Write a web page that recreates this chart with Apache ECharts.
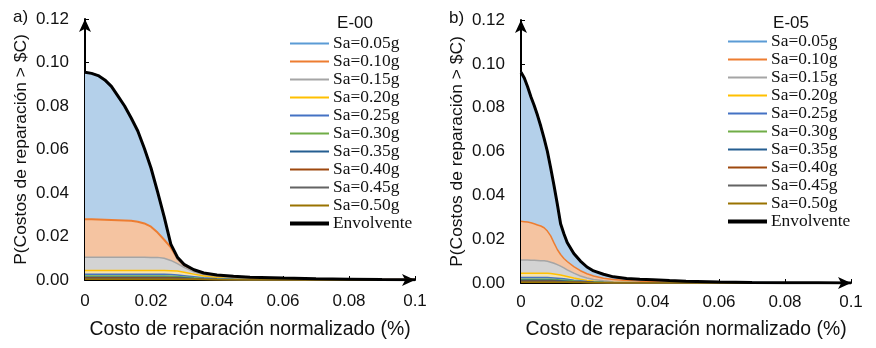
<!DOCTYPE html>
<html><head><meta charset="utf-8">
<script src="https://cdn.jsdelivr.net/npm/echarts@6/dist/echarts.min.js"></script>
<style>html,body{margin:0;padding:0;background:#fff}#c{width:876px;height:348px}</style>
</head><body><div id="c"></div>
<script>
// ---------- Panel a) E-00 ----------
const xA = [0, 0.002, 0.004, 0.006, 0.008, 0.010, 0.012, 0.014, 0.016, 0.018, 0.020, 0.022, 0.024, 0.026, 0.028, 0.030, 0.033, 0.036, 0.040, 0.045, 0.050, 0.060, 0.070, 0.080, 0.090, 0.100];
const envA   = [0.0955,0.0950,0.0940,0.0920,0.0890,0.0845,0.0800,0.0745,0.0685,0.0605,0.0515,0.0405,0.0290,0.0165,0.0105,0.0072,0.0047,0.0032,0.0023,0.0017,0.0013,0.0009,0.0006,0.0004,0.0002,0.0001];
const sa005A = [0.0955,0.0950,0.0940,0.0920,0.0890,0.0845,0.0800,0.0745,0.0685,0.0605,0.0515,0.0405,0.0290,0.0160,0.0095,0.0065,0.0043,0.0030,0.0021,0.0016,0.0012,0.0008,0.0005,0.0003,0.0002,0.0001];
const sa010A = [0.0279,0.0279,0.0278,0.0277,0.0276,0.0275,0.0274,0.0272,0.0268,0.0260,0.0245,0.0218,0.0185,0.0150,0.0100,0.0068,0.0042,0.0028,0.0018,0.0012,0.0009,0.0005,0.0003,0.0002,0.0001,0.0001];
const sa015A = [0.0105,0.0105,0.0105,0.0105,0.0105,0.0105,0.0105,0.0105,0.0105,0.0105,0.0104,0.0104,0.0100,0.0090,0.0075,0.0058,0.0038,0.0024,0.0014,0.0008,0.0005,0.0003,0.0002,0.0001,0.0001,0];
const sa020A = [0.0044,0.0044,0.0044,0.0044,0.0044,0.0044,0.0044,0.0044,0.0044,0.0044,0.0044,0.0044,0.0044,0.0043,0.0041,0.0036,0.0027,0.0018,0.0010,0.0005,0.0003,0.0001,0.0001,0,0,0];
const sa025A = [0.0026,0.0026,0.0026,0.0026,0.0026,0.0026,0.0026,0.0026,0.0026,0.0026,0.0026,0.0026,0.0026,0.0025,0.0023,0.0020,0.0015,0.0010,0.0006,0.0003,0.0002,0.0001,0.0001,0,0,0];
const sa030A = [0.0018,0.0018,0.0018,0.0018,0.0018,0.0018,0.0018,0.0018,0.0018,0.0018,0.0018,0.0018,0.0018,0.0017,0.0016,0.0014,0.0010,0.0007,0.0004,0.0002,0.0001,0.0001,0,0,0,0];
const sa035A = [0.0013,0.0013,0.0013,0.0013,0.0013,0.0013,0.0013,0.0013,0.0013,0.0013,0.0013,0.0013,0.0013,0.0012,0.0011,0.0010,0.0007,0.0005,0.0003,0.0002,0.0001,0,0,0,0,0];
const sa040A = [0.0009,0.0009,0.0009,0.0009,0.0009,0.0009,0.0009,0.0009,0.0009,0.0009,0.0009,0.0009,0.0009,0.0009,0.0008,0.0007,0.0005,0.0003,0.0002,0.0001,0.0001,0,0,0,0,0];
const sa045A = [0.0006,0.0006,0.0006,0.0006,0.0006,0.0006,0.0006,0.0006,0.0006,0.0006,0.0006,0.0006,0.0006,0.0006,0.0005,0.0005,0.0004,0.0003,0.0002,0.0001,0,0,0,0,0,0];
const sa050A = [0.0004,0.0004,0.0004,0.0004,0.0004,0.0004,0.0004,0.0004,0.0004,0.0004,0.0004,0.0004,0.0004,0.0004,0.0004,0.0003,0.0003,0.0002,0.0001,0.0001,0,0,0,0,0,0];

// ---------- Panel b) E-05 ----------
const xB = [0, 0.001, 0.002, 0.003, 0.004, 0.005, 0.006, 0.007, 0.008, 0.009, 0.010, 0.011, 0.012, 0.013, 0.014, 0.016, 0.018, 0.020, 0.022, 0.025, 0.028, 0.032, 0.036, 0.040, 0.045, 0.050, 0.060, 0.070, 0.080, 0.090, 0.100];
const envB   = [0.0962,0.0935,0.0895,0.0850,0.0810,0.0765,0.0715,0.0660,0.0600,0.0525,0.0445,0.0360,0.0270,0.0225,0.0185,0.0135,0.0100,0.0073,0.0055,0.0040,0.0028,0.0021,0.0017,0.0015,0.0011,0.0008,0.0004,0.0002,0.0001,0.0001,0];
const sa005B = [0.0962,0.0935,0.0895,0.0850,0.0810,0.0765,0.0715,0.0660,0.0600,0.0525,0.0445,0.0360,0.0270,0.0225,0.0185,0.0135,0.0100,0.0073,0.0055,0.0038,0.0026,0.0019,0.0015,0.0013,0.0010,0.0007,0.0003,0.0002,0.0001,0,0];
const sa010B = [0.0282,0.0280,0.0278,0.0275,0.0270,0.0265,0.0260,0.0252,0.0237,0.0215,0.0183,0.0153,0.0130,0.0112,0.0098,0.0075,0.0056,0.0042,0.0032,0.0022,0.0016,0.0011,0.0008,0.0006,0.0003,0.0002,0.0001,0.0001,0,0,0];
const sa015B = [0.0105,0.0105,0.0105,0.0104,0.0104,0.0103,0.0102,0.0101,0.0099,0.0095,0.0090,0.0084,0.0077,0.0069,0.0060,0.0045,0.0032,0.0023,0.0016,0.0010,0.0006,0.0004,0.0002,0.0001,0,0,0,0,0,0,0];
const sa020B = [0.0045,0.0045,0.0045,0.0045,0.0045,0.0044,0.0044,0.0044,0.0044,0.0043,0.0041,0.0039,0.0036,0.0033,0.0030,0.0023,0.0017,0.0012,0.0008,0.0005,0.0003,0.0002,0.0001,0,0,0,0,0,0,0,0];
const sa025B = [0.0025,0.0025,0.0025,0.0025,0.0025,0.0025,0.0025,0.0025,0.0025,0.0024,0.0023,0.0022,0.0021,0.0019,0.0017,0.0013,0.0010,0.0007,0.0005,0.0003,0.0002,0.0001,0.0001,0,0,0,0,0,0,0,0];
const sa030B = [0.0017,0.0017,0.0017,0.0017,0.0017,0.0017,0.0017,0.0017,0.0017,0.0017,0.0016,0.0015,0.0014,0.0013,0.0012,0.0009,0.0007,0.0005,0.0004,0.0002,0.0001,0.0001,0,0,0,0,0,0,0,0,0];
const sa035B = [0.0012,0.0012,0.0012,0.0012,0.0012,0.0012,0.0012,0.0012,0.0012,0.0012,0.0011,0.0011,0.0010,0.0009,0.0008,0.0006,0.0005,0.0004,0.0003,0.0002,0.0001,0,0,0,0,0,0,0,0,0,0];
const sa040B = [0.0008,0.0008,0.0008,0.0008,0.0008,0.0008,0.0008,0.0008,0.0008,0.0008,0.0008,0.0007,0.0007,0.0006,0.0006,0.0005,0.0004,0.0003,0.0002,0.0001,0.0001,0,0,0,0,0,0,0,0,0,0];
const sa045B = [0.0005,0.0005,0.0005,0.0005,0.0005,0.0005,0.0005,0.0005,0.0005,0.0005,0.0005,0.0005,0.0004,0.0004,0.0004,0.0003,0.0003,0.0002,0.0001,0.0001,0,0,0,0,0,0,0,0,0,0,0];
const sa050B = [0.0003,0.0003,0.0003,0.0003,0.0003,0.0003,0.0003,0.0003,0.0003,0.0003,0.0003,0.0003,0.0003,0.0003,0.0003,0.0002,0.0002,0.0001,0.0001,0.0001,0,0,0,0,0,0,0,0,0,0,0];

const seriesNames = ['Sa=0.05g','Sa=0.10g','Sa=0.15g','Sa=0.20g','Sa=0.25g','Sa=0.30g','Sa=0.35g','Sa=0.40g','Sa=0.45g','Sa=0.50g'];
const envName = 'Envolvente';
const panelTitles = ['E-00', 'E-05'];
const panelTags = ['a)', 'b)'];
const xTicks = [0, 0.02, 0.04, 0.06, 0.08, 0.1];
const yTicks = [0, 0.02, 0.04, 0.06, 0.08, 0.10, 0.12];
const xAxisTitle = 'Costo de reparación normalizado (%)';
const yAxisTitle = 'P(Costos de reparación > $C)';

const dataA = [sa005A, sa010A, sa015A, sa020A, sa025A, sa030A, sa035A, sa040A, sa045A, sa050A];
const dataB = [sa005B, sa010B, sa015B, sa020B, sa025B, sa030B, sa035B, sa040B, sa045B, sa050B];

// styles
const lineColors = ['#5b9bd5','#ed7d31','#a5a5a5','#ffc000','#4472c4','#70ad47','#255e91','#9e480e','#636363','#997300'];
const fillColors = ['#b4d0ea','#f5c4a1','#d3d3d3','#f3e3b0','#c6cfdd','#c8dcbb','#a9bccf','#d9b8a0','#c4c4c4','#cdbb86'];
const sansFont = '"Liberation Sans", Arial, sans-serif';
const serifFont = '"Liberation Serif", "Times New Roman", serif';
const txt = '#111';

const chart = echarts.init(document.getElementById('c'), null, {renderer: 'canvas'});

function fmtX(v) {
  if (Math.abs(v) < 1e-12) return '0';
  if (Math.abs(v - 0.1) < 1e-9) return '0.1';
  return v.toFixed(2);
}

const grids = [
  {left: 85, top: 19, width: 330, height: 261},
  {left: 521, top: 20, width: 330, height: 263}
];

function mkX(i, labelMargin, nameGap) {
  return {
    type: 'value', gridIndex: i, min: 0, max: 0.1, interval: 0.02,
    axisLine: {show: true, lineStyle: {color: '#000', width: 2}, symbol: ['none', 'arrow'], symbolSize: [9, 13]},
    axisTick: {show: true, inside: true, length: 4, lineStyle: {color: '#000', width: 1}},
    axisLabel: {formatter: fmtX, fontSize: 17, color: txt, fontFamily: sansFont, margin: labelMargin, showMaxLabel: true},
    splitLine: {show: false},
    name: xAxisTitle, nameLocation: 'middle', nameGap: nameGap,
    nameTextStyle: {fontSize: 19.4, color: txt, fontFamily: sansFont}
  };
}
function mkY(i) {
  return {
    type: 'value', gridIndex: i, min: 0, max: 0.12, interval: 0.02,
    axisLine: {show: true, lineStyle: {color: '#000', width: 2}, symbol: ['none', 'arrow'], symbolSize: [9, 13]},
    axisTick: {show: true, inside: true, length: 4, lineStyle: {color: '#000', width: 1}},
    axisLabel: {formatter: v => v.toFixed(2), fontSize: 17, color: txt, fontFamily: sansFont, margin: 16},
    splitLine: {show: false},
    name: yAxisTitle, nameLocation: 'middle', nameGap: 55, nameRotate: 90,
    nameTextStyle: {fontSize: 17.4, color: txt, fontFamily: sansFont}
  };
}

const series = [];
[[xA, dataA, envA], [xB, dataB, envB]].forEach(([xs, arrs, env], p) => {
  arrs.forEach((arr, k) => {
    series.push({
      type: 'line', name: seriesNames[k], xAxisIndex: p, yAxisIndex: p,
      data: xs.map((x, i) => [x, arr[i]]),
      showSymbol: false, symbol: 'none', smooth: false,
      lineStyle: {color: lineColors[k], width: (k === 1 && p === 0) ? 2 : 1.5},
      itemStyle: {color: lineColors[k]},
      areaStyle: {color: fillColors[k], opacity: 1},
      z: 2, animation: false, silent: true
    });
  });
  series.push({
    type: 'line', name: envName, xAxisIndex: p, yAxisIndex: p,
    data: xs.map((x, i) => [x, env[i]]),
    showSymbol: false, symbol: 'none',
    lineStyle: {color: '#000', width: 3},
    itemStyle: {color: '#000'},
    z: 4, animation: false, silent: true
  });
});

const thin = 'path://M0,0H40V1.8H0Z';
const thick = 'path://M0,0H40V4H0Z';
const legendData = seriesNames.map(n => ({name: n, icon: thin})).concat([{name: envName, icon: thick}]);

function mkLegend(left, top) {
  return {
    orient: 'vertical', left: left, top: top, itemWidth: 39, itemHeight: 14, itemGap: 1,
    padding: 0, selectedMode: false, data: legendData,
    textStyle: {fontFamily: serifFont, fontSize: 17.4, color: txt, lineHeight: 17, padding: [0, 0, 0, -1]},
    symbolKeepAspect: true
  };
}

chart.setOption({
  animation: false,
  backgroundColor: '#fff',
  grid: grids,
  xAxis: [mkX(0, 13, 40), mkX(1, 11, 37)],
  yAxis: [mkY(0), mkY(1)],
  legend: [mkLegend(290, 35), mkLegend(728, 33)],
  series: series,
  graphic: [
    {type: 'text', x: 355, y: 23, style: {text: panelTitles[0], font: '17px ' + sansFont, fill: txt, textAlign: 'center', textVerticalAlign: 'middle'}},
    {type: 'text', x: 791, y: 23, style: {text: panelTitles[1], font: '17px ' + sansFont, fill: txt, textAlign: 'center', textVerticalAlign: 'middle'}},
    {type: 'text', x: 13, y: 17, style: {text: panelTags[0], font: '17px ' + sansFont, fill: txt, textAlign: 'left', textVerticalAlign: 'middle'}},
    {type: 'text', x: 449, y: 18, style: {text: panelTags[1], font: '17px ' + sansFont, fill: txt, textAlign: 'left', textVerticalAlign: 'middle'}}
  ]
});
</script></body></html>
